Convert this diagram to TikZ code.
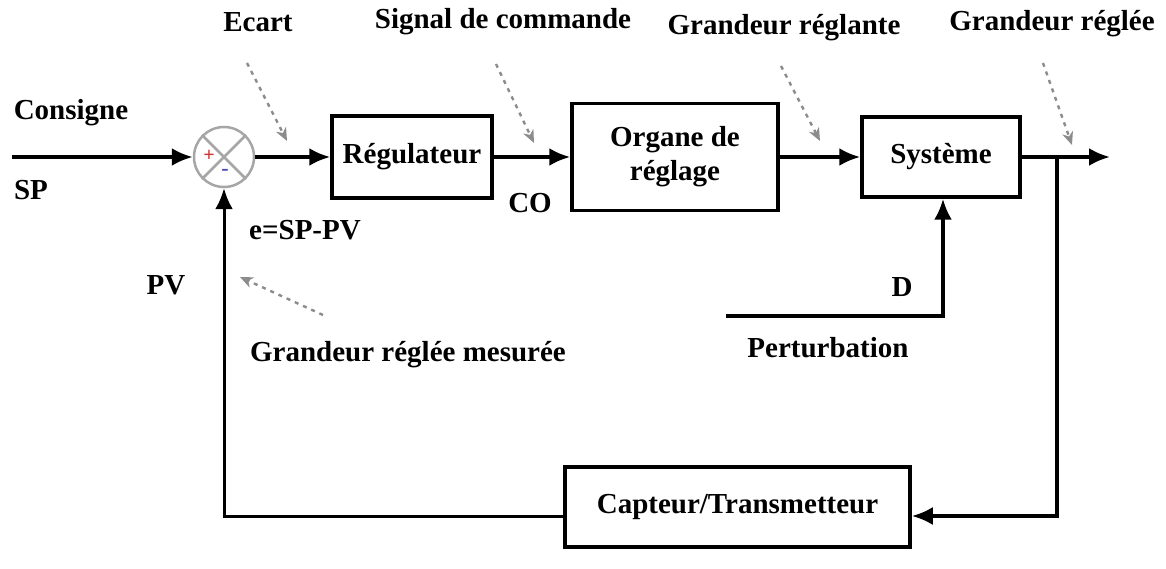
\documentclass[tikz,border=0pt]{standalone}
\usepackage{fontspec}
\setmainfont{Liberation Serif}
\usetikzlibrary{arrows.meta}

\begin{document}
\begin{tikzpicture}[x=1pt, y=-1pt,
    bloc/.style={draw, line width=3.5pt, minimum width=#1, inner sep=0pt, align=center},
    fleche/.style={->, line width=3.5pt},
    indic/.style={-{Stealth[open, length=13pt, width=11pt, inset=4pt]}, draw=gray!90, line width=2.4pt, dash pattern=on 4pt off 5pt},
    >={Latex[length=21pt, width=18pt]},   %Pfeilspitzen
    font=\bfseries\fontsize{29}{34}\selectfont]
    \useasboundingbox (0,0) rectangle (1166,569);
    % Comparateur
    \node[draw=gray!70, line width=2.5pt, circle, minimum size=60pt, inner sep=0pt] (somme) at (224,157) {};
    \draw[gray!70, line width=2.5pt] (somme.north west) -- (somme.south east) (somme.north east) -- (somme.south west);
    \node[red!60!gray, font=\bfseries\fontsize{20}{20}\selectfont] (plus) at (209,156) {+};
    \node[blue!40!gray, font=\bfseries\fontsize{22}{22}\selectfont] (moins) at (225,172) {-};
    % Blocs
    \node[bloc=160pt, minimum height=82pt] (regul) at (412,157) {Régulateur};
    \node[bloc=206pt, minimum height=107pt] (organe) at (675,157) {Organe de\\réglage};
    \node[bloc=158pt, minimum height=80pt] (systeme) at (941,157) {Système};
    \node[bloc=345pt, minimum height=80pt] (capteur) at (737.5,507) {Capteur/Transmetteur};
    % Points de liaison
    \coordinate (entree) at (12,157);
    \coordinate (sortie) at (1110,157);
    \coordinate (branche) at (1057,157);
    \coordinate (coinD) at (1057,516);
    \coordinate (coinG) at (224,516);
    \coordinate (pert) at (726,316);
    \coordinate (coinP) at (943,316);
    % Liaisons
    \draw[fleche] (entree) -- (somme.west);
    \draw[fleche] (somme.east) -- (regul.west);
    \draw[fleche] (regul.east) -- (organe.west);
    \draw[fleche] (organe.east) -- (systeme.west);
    \draw[fleche] (systeme.east) -- (sortie);
    \draw[fleche] (branche) -- (coinD) -- (coinD -| capteur.east);
    \draw[fleche, line width=3pt] (coinG -| capteur.west) -- (coinG) -- (somme.south);
    \draw[fleche] (pert) -- (coinP) -- (coinP |- systeme.south);
    % Beschriftung
    \node (consigne) at (71,113) {Consigne};
    \node (sp) at (31,190) {SP};
    \node (ecart) at (258,22) {Ecart};
    \node (signal) at (503,22) {Signal de commande};
    \node (reglante) at (784,28) {Grandeur réglante};
    \node (reglee) at (1052,24) {Grandeur réglée};
    \node (co) at (530,203) {CO};
    \node (erreur) at (305,230) {e=SP-PV};
    \node (pv) at (166,285) {PV};
    \node (mesuree) at (408,355) {Grandeur réglée mesurée};
    \node (d) at (902,287) {D};
    \node (perturb) at (828,348) {Perturbation};
    % Fleches indicatrices
    \coordinate (i1a) at (247,63);   \coordinate (i1b) at (287,141);
    \coordinate (i2a) at (496,64);   \coordinate (i2b) at (534,143);
    \coordinate (i3a) at (781,66);   \coordinate (i3b) at (820,141);
    \coordinate (i4a) at (1043,63);  \coordinate (i4b) at (1072,145);
    \coordinate (i5a) at (323,315);  \coordinate (i5b) at (240,277);
    \foreach \i in {1,...,5} \draw[indic] (i\i a) -- (i\i b);
\end{tikzpicture}
\end{document}
